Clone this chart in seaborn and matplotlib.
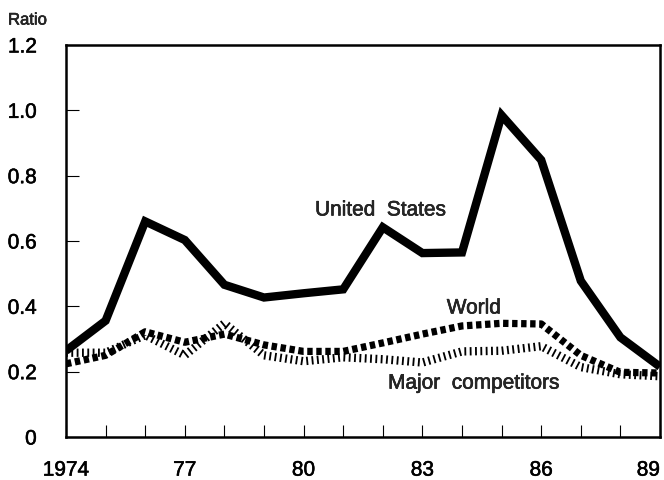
import matplotlib
matplotlib.use("Agg")
import matplotlib.pyplot as plt
import matplotlib.patheffects as pe
import seaborn as sns
import pandas as pd

years = list(range(1974, 1990))
united_states = [0.264, 0.356, 0.660, 0.603, 0.466, 0.427, 0.440, 0.452,
                 0.642, 0.563, 0.565, 0.985, 0.848, 0.478, 0.305, 0.215]
world = [0.224, 0.250, 0.322, 0.290, 0.315, 0.282, 0.262, 0.262,
         0.288, 0.315, 0.340, 0.348, 0.346, 0.250, 0.198, 0.196]
major_competitors = [0.258, 0.258, 0.312, 0.250, 0.348, 0.250, 0.232, 0.244,
                     0.238, 0.228, 0.262, 0.264, 0.278, 0.214, 0.192, 0.186]
tick_labels = {1974: "1974", 1977: "77", 1980: "80", 1983: "83", 1986: "86", 1989: "89"}
y_ticks = [0, 0.2, 0.4, 0.6, 0.8, 1.0, 1.2]
y_tick_labels = ["0", "0.2", "0.4", "0.6", "0.8", "1.0", "1.2"]

df = pd.DataFrame({"year": years, "us": united_states, "world": world,
                   "mc": major_competitors})

sns.set_theme(style="ticks")
plt.rcParams["font.family"] = ["Liberation Sans", "DejaVu Sans"]

# slightly heavier type
heavy = [pe.withStroke(linewidth=0.4, foreground="black")]

fig = plt.figure(figsize=(6.64, 4.81), dpi=100)
ax = fig.add_axes([66 / 664, 43 / 481, 594 / 664, 392 / 481])

# Major competitors: comb-like line built from short butt-capped dashes
sns.lineplot(data=df, x="year", y="mc", ax=ax, color="black", linewidth=6,
             linestyle=(0, (0.22, 0.42)), dash_capstyle="butt")
# World: heavy square dots
sns.lineplot(data=df, x="year", y="world", ax=ax, color="black", linewidth=5.2,
             linestyle=(0, (0.75, 0.5)), dash_capstyle="butt")
# United States: heavy solid line
sns.lineplot(data=df, x="year", y="us", ax=ax, color="black", linewidth=6,
             solid_joinstyle="miter", solid_capstyle="butt")

ax.set_xlim(1974, 1989)
ax.set_ylim(0, 1.2)
ax.set_xticks(years)
ax.set_xticklabels([tick_labels.get(y, "") for y in years])
ax.set_yticks(y_ticks)
ax.set_yticklabels(y_tick_labels)
ax.set_xlabel("")
ax.set_ylabel("")

ax.tick_params(axis="x", direction="in", length=8.5, width=0.8, pad=17,
               labelsize=15, colors="black", top=False)
ax.tick_params(axis="y", direction="in", length=9.5, width=0.8, pad=21,
               labelsize=15, colors="black", right=False)
for side in ["left", "bottom", "top", "right"]:
    ax.spines[side].set_visible(True)
    ax.spines[side].set_linewidth(1.8)
    ax.spines[side].set_color("black")

for lab in ax.get_xticklabels() + ax.get_yticklabels():
    lab.set_path_effects(heavy)
# the last year label sits flush with the right frame edge
ax.get_xticklabels()[-1].set_horizontalalignment("right")

ax.text(1981.95, 0.695, "United  States", fontsize=15, ha="center", va="center",
        path_effects=heavy)
ax.text(1984.3, 0.395, "World", fontsize=15, ha="center", va="center",
        path_effects=heavy)
ax.text(1984.3, 0.165, "Major  competitors", fontsize=15, ha="center", va="center",
        path_effects=heavy)

fig.text(8 / 664, 1 - 21 / 481, "Ratio", fontsize=12, ha="left", va="center",
         path_effects=heavy)

fig.savefig("out.png", dpi=100)
